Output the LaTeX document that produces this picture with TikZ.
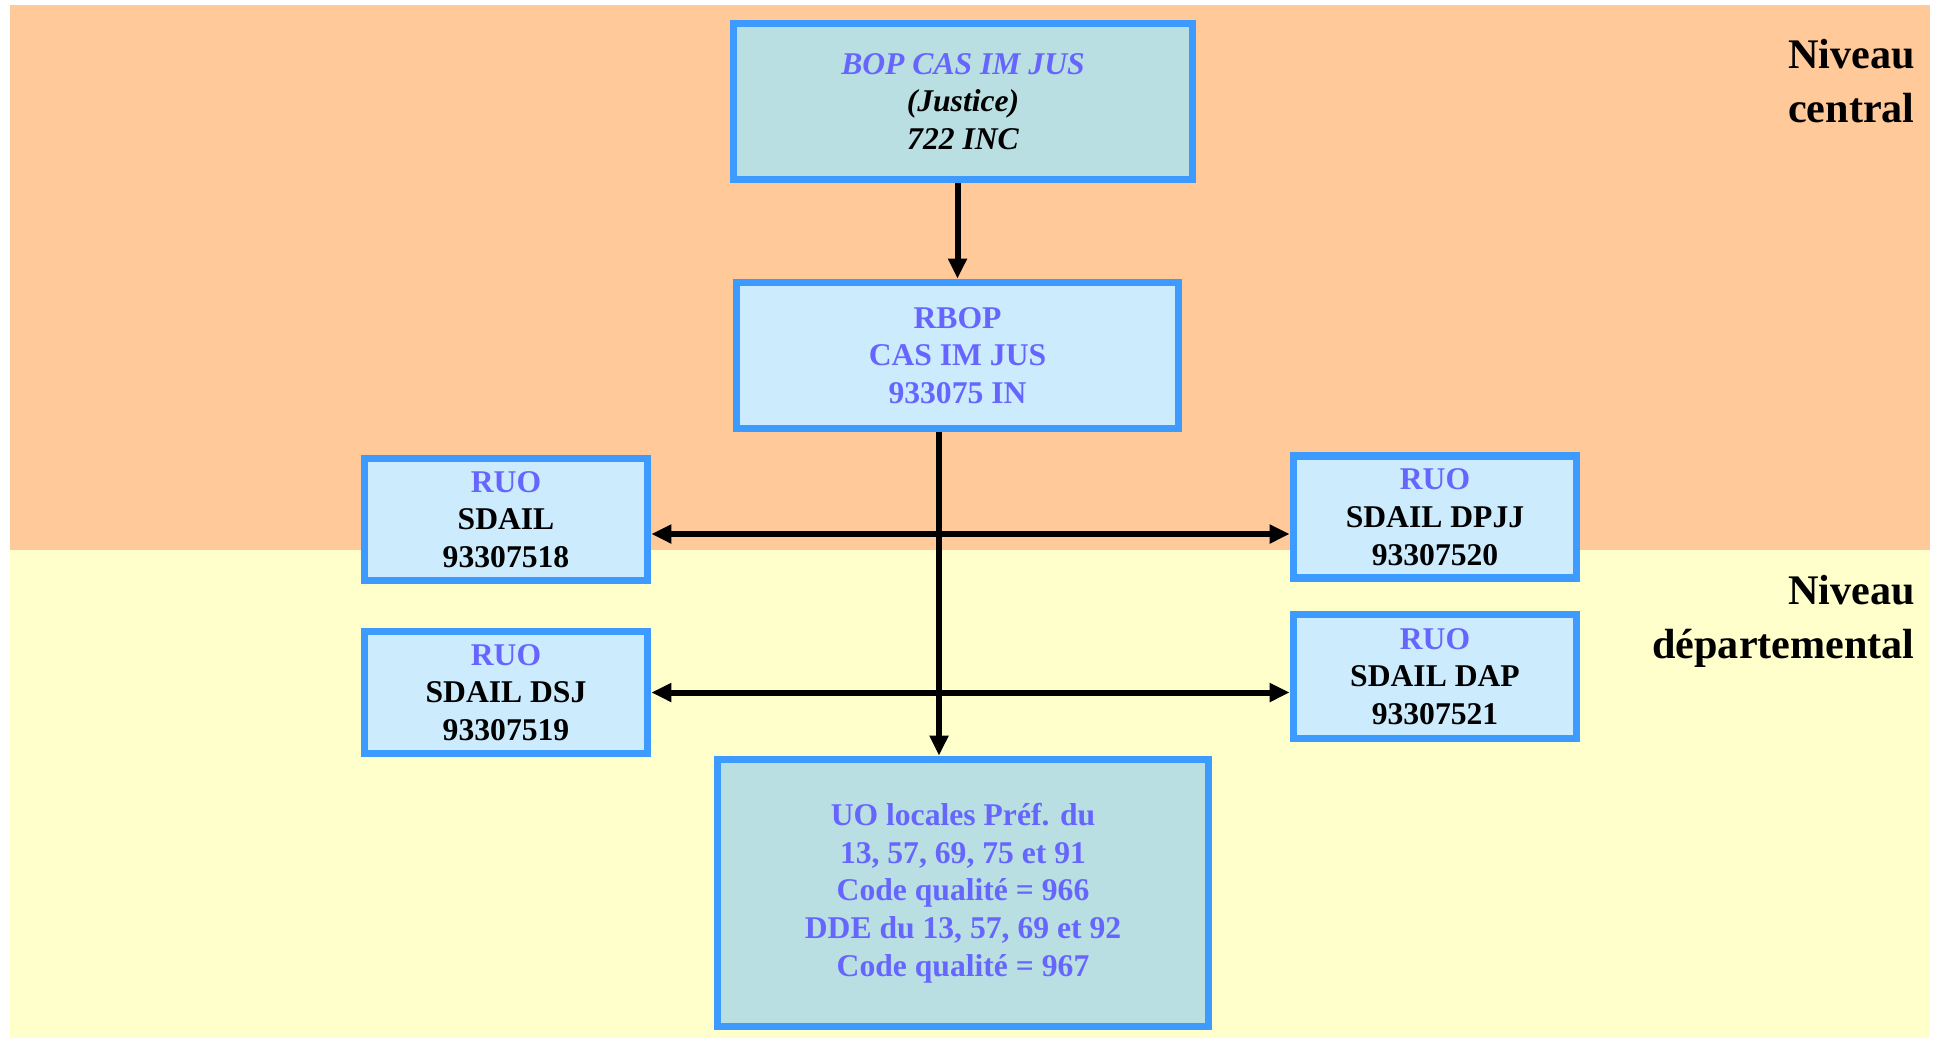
\documentclass[tikz,border=0pt]{standalone}
\usepackage{fontspec}
\setmainfont{Liberation Serif}
\usetikzlibrary{arrows.meta}
\definecolor{peach}{HTML}{FFC999}
\definecolor{cream}{HTML}{FFFFCC}
\definecolor{edge}{HTML}{3D9BFF}
\definecolor{aqua}{HTML}{B9DFE2}
\definecolor{sky}{HTML}{CCEBFD}
\definecolor{ink}{HTML}{6666FF}
\newcommand\boxfont{\fontsize{18}{21.5}\selectfont\bfseries}
\tikzset{box/.style={draw=edge,line width=4.4pt,fill=sky,align=center,font=\boxfont,inner sep=1mm}, deep/.style={box,fill=aqua}, ruo/.style={box,minimum width=5.66cm,minimum height=2.44cm}, flow/.style={-{Triangle[length=4mm,width=3.6mm]},line width=3.4pt}, both/.style={flow,{Triangle[length=4mm,width=3.6mm]}-{Triangle[length=4mm,width=3.6mm]}}, level/.style={align=right,anchor=north east,font=\fontsize{24}{30.5}\selectfont\bfseries,inner sep=0pt}}

\begin{document}
\begin{tikzpicture}
\useasboundingbox (0,0) rectangle (38.74,-20.8);
% bands
\fill[peach] (0.2,-0.1) rectangle (38.6,-11.0);
\fill[cream] (0.2,-11.0) rectangle (38.6,-20.76);
\node[level] (central) at (38.3,-0.78) {Niveau\\central};
\node[level] (dept) at (38.3,-11.5) {Niveau\\départemental};
% boxes
\node[deep,font=\boxfont\itshape,minimum width=9.18cm,minimum height=3.12cm] (bop) at (19.26,-2.03) {\textcolor{ink}{BOP CAS IM JUS}\\(Justice)\\722 INC};
\node[box,text=ink,minimum width=8.84cm,minimum height=2.92cm] (rbop) at (19.15,-7.11) {RBOP\\CAS IM JUS\\933075 IN};
\node[ruo] (sdail) at (10.12,-10.39) {\textcolor{ink}{RUO}\\SDAIL\\93307518};
\node[ruo] (dsj) at (10.12,-13.85) {\textcolor{ink}{RUO}\\SDAIL DSJ\\93307519};
\node[ruo] (dpjj) at (28.7,-10.34) {\textcolor{ink}{RUO}\\SDAIL DPJJ\\93307520};
\node[ruo,minimum height=2.48cm] (dap) at (28.7,-13.53) {\textcolor{ink}{RUO}\\SDAIL DAP\\93307521};
\node[deep,text=ink,minimum width=9.82cm,minimum height=5.34cm] (uo) at (19.26,-17.86) {UO locales Préf. du\\13, 57, 69, 75 et 91\\Code qualité = 966\\DDE du 13, 57, 69 et 92\\Code qualité = 967};
% links
\draw[flow] (bop.south -| rbop.north) -- (rbop.north);
\coordinate (trunk) at ([xshift=-3.7mm]rbop.south);
\draw[flow] (trunk) -- (trunk |- uo.north);
\draw[both] ([yshift=-2.9mm]sdail.east) -- ([yshift=-2.9mm]sdail.east -| dpjj.west);
\draw[both] (dsj.east) -- (dsj.east -| dap.west);
\end{tikzpicture}
\end{document}
